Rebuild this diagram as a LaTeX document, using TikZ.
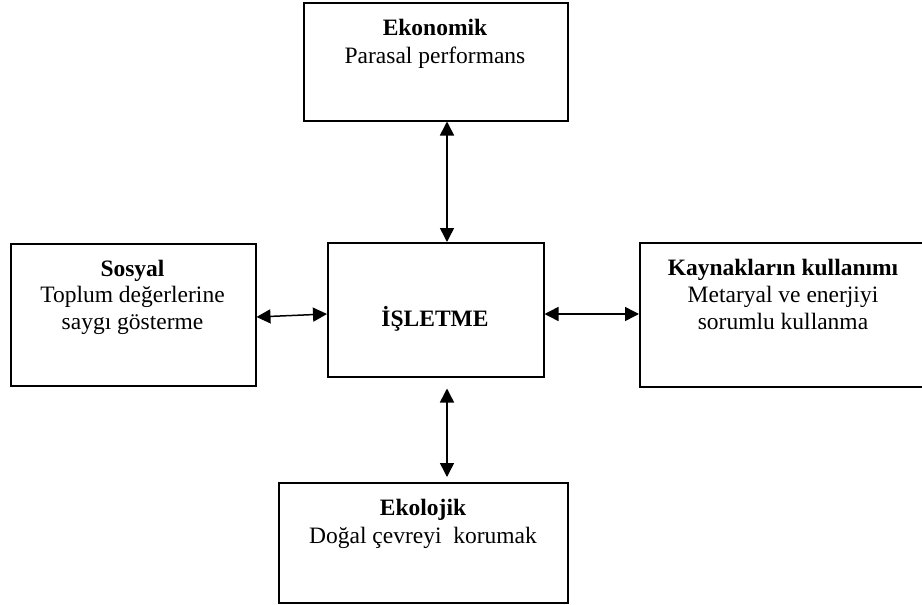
\documentclass[tikz,border=0pt]{standalone}
\usepackage{fontspec}
\setmainfont{Liberation Serif}
\usetikzlibrary{arrows.meta,calc}
\tikzset{
  box/.style={draw=black,line width=1.5pt,minimum width=#1,inner sep=0pt,anchor=north west},
  txt/.style={anchor=base,inner sep=0pt,align=center,font=\fontsize{23.5}{27}\selectfont},
  link/.style={line width=1.5pt,{Triangle[length=14pt,width=14pt]}-{Triangle[length=14pt,width=14pt]}}
}
\begin{document}
\begin{tikzpicture}[x=1pt,y=-1pt]
\useasboundingbox (0,0) rectangle (922,605);
% boxes
\node[box=264pt,minimum height=118pt] (top) at (303,2) {};
\node[box=245pt,minimum height=142pt] (left) at (10,243) {};
\node[box=216pt,minimum height=134pt] (center) at (327,242) {};
\node[box=288pt,minimum height=144pt] (right) at (639,242) {};
\node[box=289pt,minimum height=120pt] (bottom) at (278,482) {};
% texts (multi-line nodes are placed by the baseline of their last line)
\node[txt] (toph) at (435,35) {\textbf{Ekonomik}};
\node[txt] (topt) at (435,63) {Parasal performans};
\node[txt] (lefth) at (132.5,276) {\textbf{Sosyal}};
\node[txt] (leftt) at (132.5,329) {Toplum değerlerine\\saygı gösterme};
\node[txt] (centert) at (435,326) {\textbf{İŞLETME}};
\node[txt] (righth) at (783,275) {\textbf{Kaynakların kullanımı}};
\node[txt] (rightt) at (783,329) {Metaryal ve enerjiyi\\sorumlu kullanma};
\node[txt] (bottomh) at (423,515) {\textbf{Ekolojik}};
\node[txt] (bottomt) at (423,543) {Doğal çevreyi\ \ korumak};
% arrow anchor coordinates
\coordinate (vx) at (447,0);
\coordinate (ly1) at (0,317);
\coordinate (ly2) at (0,314);
% connectors
\draw[link] (top.south -| vx) -- (center.north -| vx);
\draw[link,shorten <=11pt,shorten >=5pt] (center.south -| vx) -- (bottom.north -| vx);
\draw[link] (left.east |- ly1) -- (center.west |- ly2);
\draw[link] (center.east |- ly2) -- (right.west |- ly2);
\end{tikzpicture}
\end{document}
